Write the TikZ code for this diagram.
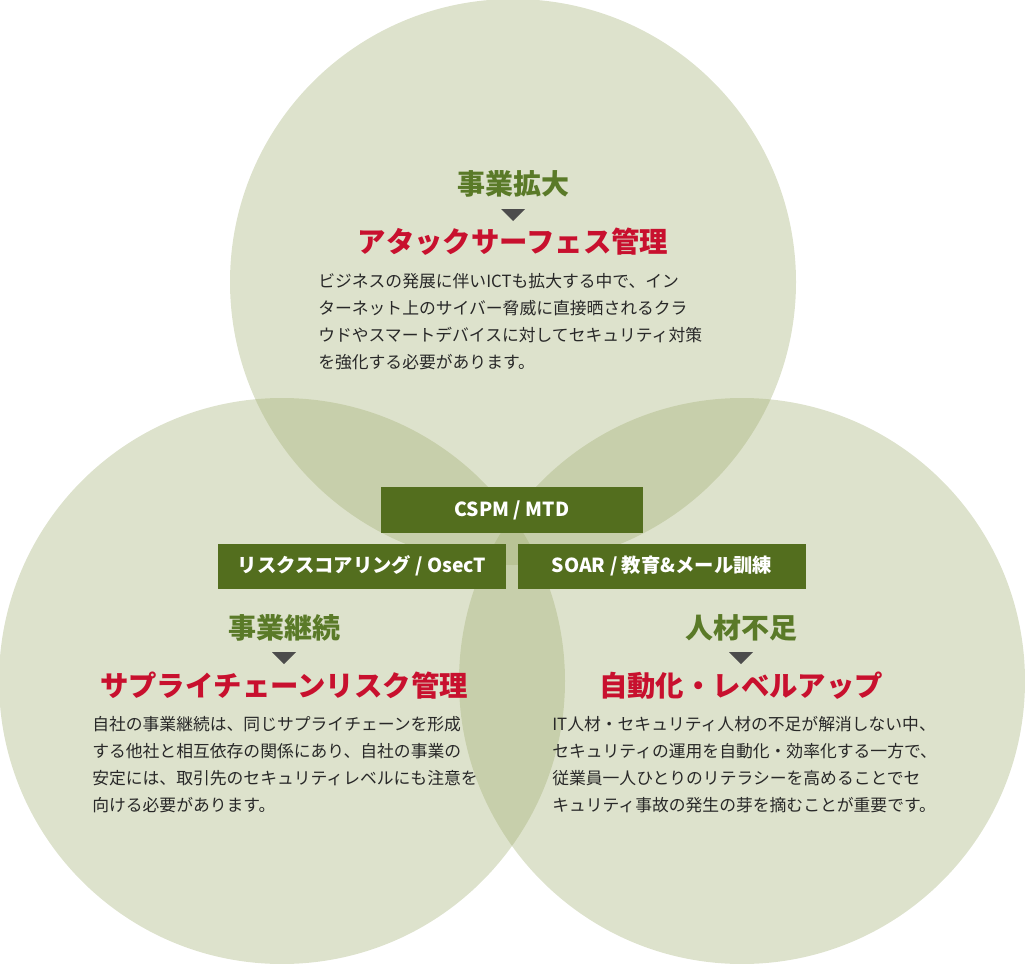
\documentclass[tikz,border=0pt]{standalone}
\usepackage{fontspec}
\setmainfont{Noto Sans CJK JP}
\usetikzlibrary{positioning}
\definecolor{circfill}{RGB}{158,172,109}
\definecolor{boxgreen}{RGB}{83,110,30}
\definecolor{headgreen}{RGB}{90,122,40}
\definecolor{titlered}{RGB}{200,16,46}
\definecolor{bodytext}{RGB}{40,40,40}
\begin{document}
\begin{tikzpicture}[x=0.75pt, y=-0.75pt,
  area/.style={fill=circfill, fill opacity=0.35},
  tag/.style={fill=boxgreen, text=white, font=\bfseries\fontsize{14.5}{16}\selectfont, inner sep=0pt},
  head/.style={text=headgreen, font=\bfseries\fontsize{21}{23}\selectfont},
  ttl/.style={text=titlered, font=\bfseries\fontsize{21.3}{24}\selectfont},
  body/.style={text=bodytext, font=\fontsize{12.6}{20.2}\selectfont, align=left, anchor=north west, inner sep=0pt},
  pointer/.style={fill=black!70, draw=none}]
\useasboundingbox (0,0) rectangle (1025,964);
% circles
\fill[area] (513,282) circle (283);
\fill[area] (282,681) circle (283);
\fill[area] (742,681) circle (283);
% tags
\node[tag, minimum width=262*0.75pt, minimum height=46*0.75pt] (cspm) at (512,510) {CSPM / MTD};
\node[tag, minimum width=288*0.75pt, minimum height=45*0.75pt] (risk) at (362,566) {リスクスコアリング / OsecT};
\node[tag, minimum width=288*0.75pt, minimum height=45*0.75pt] (soar) at (662,566) {SOAR / 教育\&メール訓練};
% top
\node[head] (topH) at (513,184) {事業拡大};
\fill[pointer] (501,209) -- (525,209) -- (513,221) -- cycle;
\node[ttl] (topT) at (513,242) {アタックサーフェス管理};
\node[body] (topB) at (318,273) {ビジネスの発展に伴いICTも拡大する中で、イン\\ターネット上のサイバー脅威に直接晒されるクラ\\ウドやスマートデバイスに対してセキュリティ対策\\を強化する必要があります。};
% left
\node[head] (leftH) at (284,628) {事業継続};
\fill[pointer] (272,652) -- (296,652) -- (284,664) -- cycle;
\node[ttl] (leftT) at (284,686) {サプライチェーンリスク管理};
\node[body] (leftB) at (92,716) {自社の事業継続は、同じサプライチェーンを形成\\する他社と相互依存の関係にあり、自社の事業の\\安定には、取引先のセキュリティレベルにも注意を\\向ける必要があります。};
% right
\node[head] (rightH) at (741,628) {人材不足};
\fill[pointer] (729,652) -- (753,652) -- (741,664) -- cycle;
\node[ttl] (rightT) at (741,686) {自動化・レベルアップ};
\node[body] (rightB) at (552,716) {IT人材・セキュリティ人材の不足が解消しない中、\\セキュリティの運用を自動化・効率化する一方で、\\従業員一人ひとりのリテラシーを高めることでセ\\キュリティ事故の発生の芽を摘むことが重要です。};
\end{tikzpicture}
\end{document}
